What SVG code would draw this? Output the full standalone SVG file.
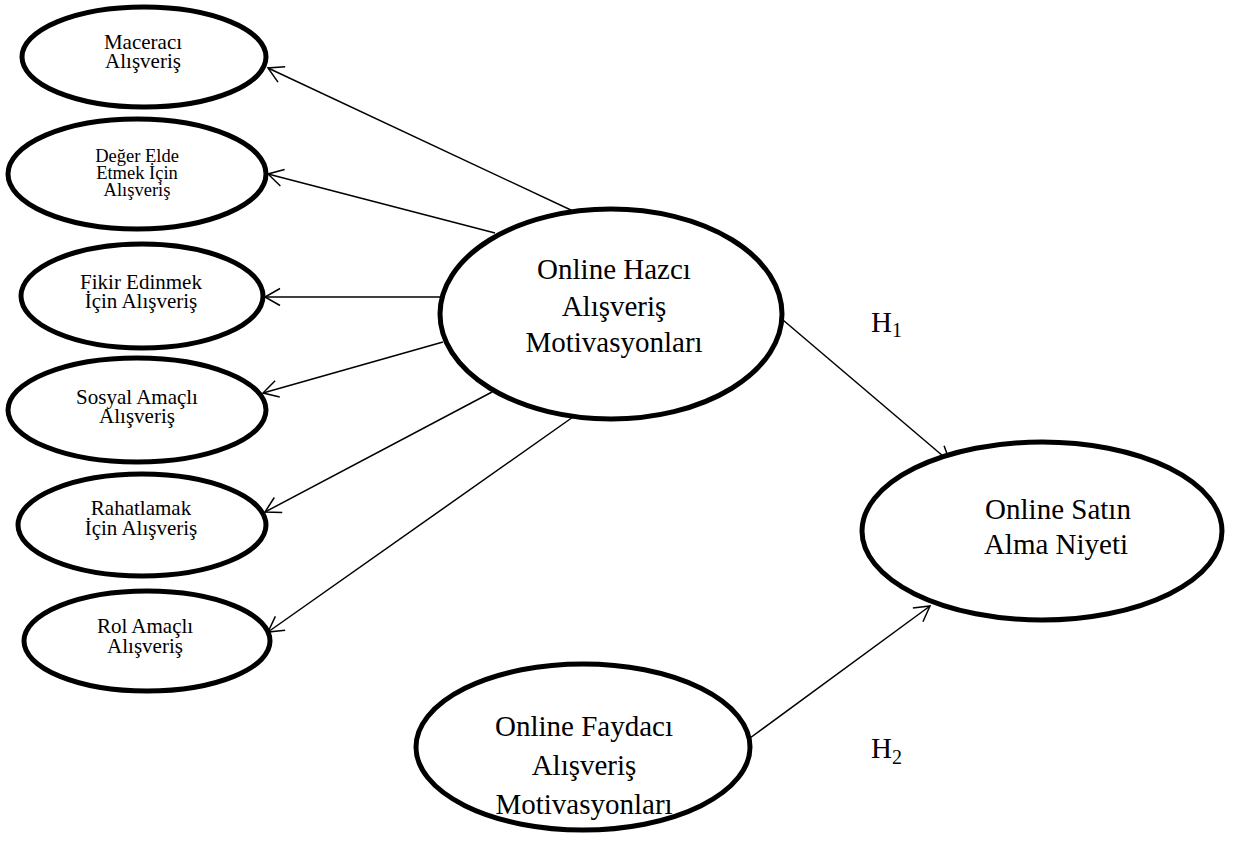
<svg xmlns="http://www.w3.org/2000/svg" width="1243" height="854" viewBox="0 0 1243 854">
<style>
.node ellipse{fill:#fff;stroke:#000;stroke-width:5}
text{font-family:"Liberation Serif","Times New Roman",serif;fill:#000;text-anchor:middle}
.s{font-size:21px}
.d{font-size:18.5px}
.b{font-size:29px}
.h{font-size:29px;text-anchor:start}
.sub{font-size:20px}
.conn line{stroke:#000;stroke-width:1.5;fill:none}
</style>
<defs>
<marker id="arr" markerUnits="userSpaceOnUse" viewBox="-17 -10 19 20" markerWidth="19" markerHeight="20" refX="0" refY="0" orient="auto">
<path d="M-15,-8.5 L0,0 L-15,8.5" fill="none" stroke="#000" stroke-width="1.5"/>
</marker>
</defs>
<rect width="1243" height="854" fill="#fff"/>
<g class="conn">
<line x1="573" y1="211" x2="268" y2="68" marker-end="url(#arr)"/>
<line x1="495" y1="233" x2="268" y2="174" marker-end="url(#arr)"/>
<line x1="440" y1="297" x2="265" y2="297" marker-end="url(#arr)"/>
<line x1="443" y1="342" x2="263" y2="393" marker-end="url(#arr)"/>
<line x1="492" y1="392" x2="265" y2="512" marker-end="url(#arr)"/>
<line x1="573" y1="417" x2="268" y2="632" marker-end="url(#arr)"/>
<line x1="783" y1="320" x2="950" y2="462" marker-end="url(#arr)"/>
<line x1="750" y1="738" x2="930" y2="606" marker-end="url(#arr)"/>
</g>
<g id="maceraci" class="node">
<ellipse cx="144" cy="57" rx="122" ry="50"/>
<text class="s" x="143" y="49">Maceracı</text>
<text class="s" x="143" y="68">Alışveriş</text>
</g>
<g id="deger" class="node">
<ellipse cx="137" cy="174" rx="129" ry="55"/>
<text class="d" x="137" y="162">Değer Elde</text>
<text class="d" x="137" y="179">Etmek İçin</text>
<text class="d" x="137" y="196">Alışveriş</text>
</g>
<g id="fikir" class="node">
<ellipse cx="142" cy="296" rx="121" ry="52"/>
<text class="s" x="141" y="289">Fikir Edinmek</text>
<text class="s" x="141" y="308">İçin Alışveriş</text>
</g>
<g id="sosyal" class="node">
<ellipse cx="137" cy="410" rx="129" ry="52"/>
<text class="s" x="137" y="404">Sosyal Amaçlı</text>
<text class="s" x="137" y="423">Alışveriş</text>
</g>
<g id="rahatlamak" class="node">
<ellipse cx="142" cy="525" rx="124" ry="51"/>
<text class="s" x="141" y="515">Rahatlamak</text>
<text class="s" x="141" y="535">İçin Alışveriş</text>
</g>
<g id="rol" class="node">
<ellipse cx="147" cy="641" rx="123" ry="50"/>
<text class="s" x="145" y="633">Rol Amaçlı</text>
<text class="s" x="145" y="653">Alışveriş</text>
</g>
<g id="hazci" class="node">
<ellipse cx="611" cy="314" rx="171" ry="105"/>
<text class="b" x="614" y="279">Online Hazcı</text>
<text class="b" x="614" y="316">Alışveriş</text>
<text class="b" x="614" y="352">Motivasyonları</text>
</g>
<g id="satin" class="node">
<ellipse cx="1042" cy="531" rx="180" ry="89"/>
<text class="b" x="1058" y="519">Online Satın</text>
<text class="b" x="1056" y="554">Alma Niyeti</text>
</g>
<g id="faydaci" class="node">
<ellipse cx="583" cy="747" rx="167" ry="83"/>
<text class="b" x="584" y="736">Online Faydacı</text>
<text class="b" x="584" y="775">Alışveriş</text>
<text class="b" x="584" y="814">Motivasyonları</text>
</g>
<g id="labels">
<text class="h" x="871" y="332">H<tspan class="sub" dy="5">1</tspan></text>
<text class="h" x="871" y="758">H<tspan class="sub" dy="6">2</tspan></text>
</g>
</svg>
